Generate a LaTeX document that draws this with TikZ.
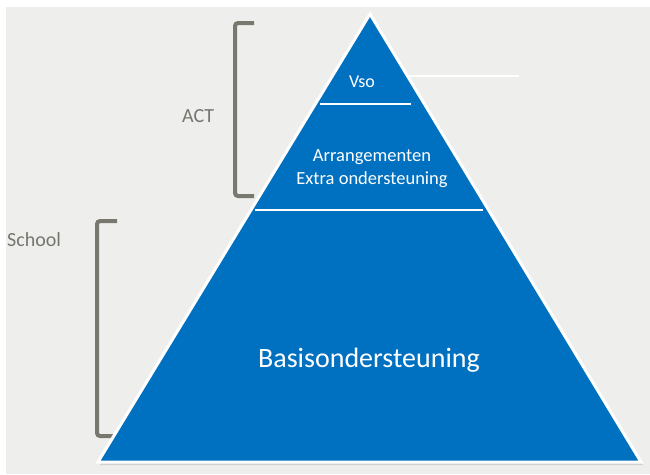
\documentclass[tikz,border=0pt]{standalone}
\usepackage{fontspec}
\setmainfont{Carlito}
\usetikzlibrary{calc}
\definecolor{piramideblauw}{RGB}{0,112,192}
\definecolor{achtergrond}{RGB}{238,238,236}
\definecolor{haakgrijs}{RGB}{120,120,110}
\definecolor{tekstgrijs}{RGB}{118,118,112}
\tikzset{
    haak/.style={line width=4pt, color=haakgrijs, rounded corners=3pt},
    scheiding/.style={line width=2.5pt, color=white},
    laag/.style={text=white, inner sep=0pt},
    zijlabel/.style={text=tekstgrijs, inner sep=0pt, anchor=base west, font=\fontsize{20}{24}\selectfont}
}

\begin{document}
\begin{tikzpicture}[x=1pt,y=-1pt]
        \fill[white] (0,0) rectangle (650,474);
        \fill[achtergrond] (6,7) rectangle (650,474);
        % haken
        \draw[haak] (254,23) -- (235,23) -- (235,196) -- (254,196);
        \draw[haak] (117,221) -- (97,221) -- (97,436) -- (117,436);
        \node[zijlabel] (act) at (182,122) {ACT};
        \node[zijlabel] (school) at (7,246) {School};
        % piramide
        \coordinate (top) at (370,14);
        \coordinate (linksonder) at (98,462);
        \coordinate (rechtsonder) at (641,462);
        \fill[black!18] ($(linksonder)+(2,3)$) -- ($(rechtsonder)+(2,3)$) -- ($(top)+(2,3)$) -- cycle;
        \filldraw[fill=piramideblauw, draw=white, line width=3pt, line join=miter] (top) -- (linksonder) -- (rechtsonder) -- cycle;
        \draw[scheiding] (320,104) -- (411,104);
        \draw[scheiding] (255,210) -- (483,210);
        \draw[scheiding] (408,76) -- (519,76);
        \node[laag, anchor=base, font=\fontsize{18}{22}\selectfont] (vso) at (362,87) {Vso};
        \node[laag, align=center, font=\fontsize{18.5}{23}\selectfont] (extra) at (372,169) {Arrangementen\\Extra ondersteuning};
        \node[laag, anchor=base, font=\fontsize{28}{32}\selectfont] (basis) at (369,367) {Basisondersteuning};
    \end{tikzpicture}
\end{document}
